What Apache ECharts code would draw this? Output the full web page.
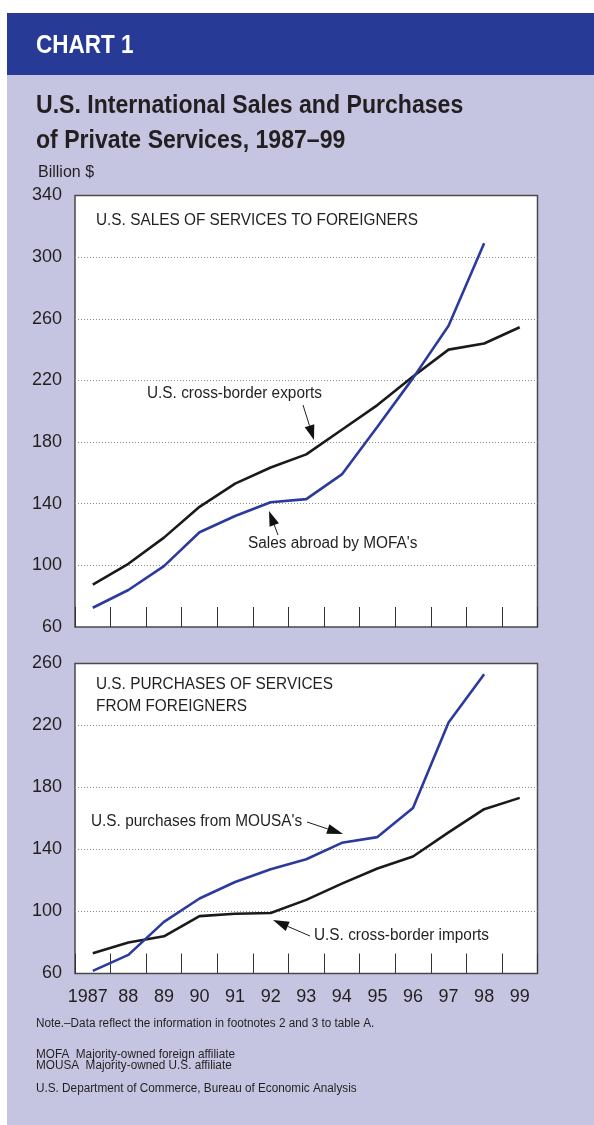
<!DOCTYPE html>
<html lang="en">
<head>
    <meta charset="UTF-8">
    <title>Chart 1</title>
    <script src="https://cdn.jsdelivr.net/npm/echarts@6/dist/echarts.min.js"></script>
</head>
<style>
    *{
        margin: 0;
        padding: 0;
    }
    html,body{
        width: 100%;
        height: 100%;
        overflow: hidden;
        background: #fff;
    }
    .container{
        width: 594px;
        height: 1125px;
    }
</style>
<body>
<div class="container"></div>
<script>
    // years on the x axis
    let years = ['1987','88','89','90','91','92','93','94','95','96','97','98','99'];

    // top panel: sales of services to foreigners (billion $)
    let crossBorderExports = [87.5, 101, 118, 138, 153, 163.5, 172, 188, 204, 222.5, 240, 244, 254.5];
    let salesByMofa = [72.5, 84, 99.5, 121.5, 132, 141, 143, 159, 190, 221.5, 255.5, 309, null];

    // bottom panel: purchases of services from foreigners (billion $)
    let crossBorderImports = [73, 80, 84, 97, 98.5, 99, 107.5, 118, 127.7, 135.5, 151, 166, 173.3];
    let purchasesFromMousa = [61.7, 72, 93.3, 108.4, 119, 127.3, 133.7, 144.3, 148, 166.8, 222, 253, null];

    let container = document.querySelector('.container');
    let mycharts = echarts.init(container);

    const BLUE = '#2b3a9c';
    const INK = '#231f20';
    const SANS = '"Liberation Sans", Arial, sans-serif';

    // text squeezed horizontally, the original uses condensed faces
    function text(x, y, str, font, sx, fill) {
        return {
            type: 'text', x: x, y: y, z: 100, scaleX: sx || 1,
            style: {text: str, font: font, fill: fill || INK, verticalAlign: 'middle'}
        };
    }

    // annotation arrow: thin shaft + filled head
    function arrow(x1, y1, x2, y2, hl) {
        hl = hl || 15;
        let dx = x2 - x1, dy = y2 - y1, L = Math.hypot(dx, dy);
        let ux = dx / L, uy = dy / L, hw = 5;
        let bx = x2 - ux * hl, by = y2 - uy * hl;
        return [
            {type: 'line', z: 100, shape: {x1: x1, y1: y1, x2: bx, y2: by}, style: {stroke: INK, lineWidth: 1}},
            {type: 'polygon', z: 100, shape: {points: [[x2, y2], [bx - uy * hw, by + ux * hw], [bx + uy * hw, by - ux * hw]]},
                style: {fill: '#111'}}
        ];
    }

    let grids = [
        {left: 75, top: 195.5, width: 462.5, height: 431.5},
        {left: 75, top: 663.5, width: 462.5, height: 310}
    ].map(g => Object.assign(g, {show: true, backgroundColor: '#fff', borderColor: '#4a4a4a', borderWidth: 1.5}));

    function xAxis(idx, showLabel) {
        return {
            type: 'category', gridIndex: idx, data: years, boundaryGap: true,
            axisLine: {show: false},
            axisTick: {show: true, inside: true, length: 20, interval: 0, lineStyle: {color: '#333', width: 1}},
            axisLabel: {
                show: showLabel, interval: 0, margin: 15, fontSize: 18, fontFamily: SANS, color: INK,
                formatter: v => v === '1987' ? '{first|' + v + '}' : v,
                rich: {first: {fontSize: 18, fontFamily: SANS, color: INK, padding: [0, 10, 0, 0]}}
            }
        };
    }

    function yAxis(idx, min, max) {
        return {
            type: 'value', gridIndex: idx, min: min, max: max, interval: 40,
            axisLine: {show: false}, axisTick: {show: false},
            axisLabel: {margin: 13, fontSize: 18, fontFamily: SANS, color: INK},
            splitLine: {show: true, showMinLine: false, showMaxLine: false,
                lineStyle: {color: '#8a8a8a', width: 1, type: [1, 2]}}
        };
    }

    function line(name, idx, data, color) {
        return {
            name: name, type: 'line', xAxisIndex: idx, yAxisIndex: idx, data: data,
            symbol: 'none', connectNulls: false, animation: false,
            lineStyle: {color: color, width: 2.6}
        };
    }

    let graphic = [
        {type: 'rect', shape: {x: 7, y: 13, width: 587, height: 62}, style: {fill: '#263a96'}},
        text(36, 46, 'CHART 1', 'bold 25px ' + SANS, 0.9, '#fff'),
        text(36, 106, 'U.S. International Sales and Purchases', 'bold 26px ' + SANS, 0.888),
        text(36, 141, 'of Private Services, 1987\u201399', 'bold 26px ' + SANS, 0.888),
        text(38, 173, 'Billion $', '16px ' + SANS),

        text(96, 221, 'U.S. SALES OF SERVICES TO FOREIGNERS', '16px ' + SANS, 0.96),
        text(147, 394, 'U.S. cross-border exports', '16px ' + SANS, 0.96),
        text(248, 544, "Sales abroad by MOFA's", '16px ' + SANS, 0.96),

        text(96, 685, 'U.S. PURCHASES OF SERVICES', '16px ' + SANS, 0.96),
        text(96, 707, 'FROM FOREIGNERS', '16px ' + SANS, 0.96),
        text(91, 822, "U.S. purchases from MOUSA's", '16px ' + SANS, 0.96),
        text(314, 936, 'U.S. cross-border imports', '16px ' + SANS, 0.96),

        text(36, 1024, 'Note.\u2013Data reflect the information in footnotes 2 and 3 to table A.', '12.5px ' + SANS, 0.94),
        text(36, 1055, 'MOFA  Majority-owned foreign affiliate', '12.5px ' + SANS, 0.94),
        text(36, 1066, 'MOUSA  Majority-owned U.S. affiliate', '12.5px ' + SANS, 0.94),
        text(36, 1089, 'U.S. Department of Commerce, Bureau of Economic Analysis', '12.5px ' + SANS, 0.94)
    ].concat(
        arrow(303, 405, 314, 440),
        arrow(278, 535, 269, 511),
        arrow(307, 822, 343, 834, 16),
        arrow(310, 936, 273, 920, 16)
    );

    let option = {
        backgroundColor: '#c6c5e1',
        animation: false,
        grid: grids,
        xAxis: [xAxis(0, false), xAxis(1, true)],
        yAxis: [yAxis(0, 60, 340), yAxis(1, 60, 260)],
        series: [
            line('U.S. cross-border exports', 0, crossBorderExports, '#1a1a1a'),
            line("Sales abroad by MOFA's", 0, salesByMofa, BLUE),
            line('U.S. cross-border imports', 1, crossBorderImports, '#1a1a1a'),
            line("U.S. purchases from MOUSA's", 1, purchasesFromMousa, BLUE)
        ],
        graphic: graphic.concat([
            {type: 'rect', shape: {x: 0, y: 0, width: 594, height: 13}, style: {fill: '#fff'}},
            {type: 'rect', shape: {x: 0, y: 0, width: 7, height: 1125}, style: {fill: '#fff'}}
        ])
    };

    mycharts.setOption(option);
</script>
</body>
</html>
